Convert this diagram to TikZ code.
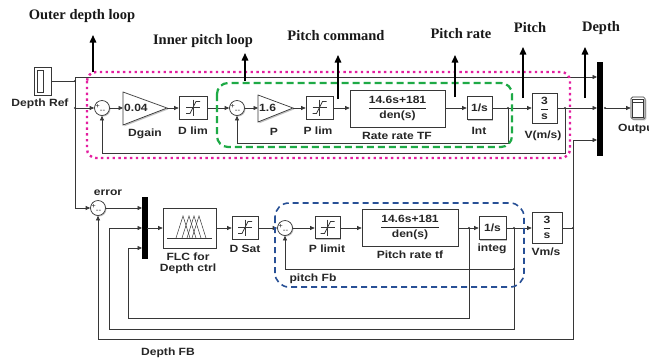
\documentclass[tikz,border=0pt]{standalone}
\usepackage{fontspec}
\usepackage{amsmath}
\setmainfont{Liberation Serif}
\newfontfamily\sfb[FakeStretch=1.15]{Liberation Sans}
\usetikzlibrary{arrows.meta,shadows}
\definecolor{ln}{RGB}{55,55,55}
\definecolor{pinkc}{RGB}{228,30,160}
\definecolor{greenc}{RGB}{30,170,70}
\definecolor{bluec}{RGB}{40,80,150}
\begin{document}
\begin{tikzpicture}[x=1pt,y=-1pt,
  every node/.style={font=\sfb\bfseries\fontsize{10.5}{11}\selectfont, inner sep=0pt, text=black!85},
  blk/.style 2 args={draw=ln, fill=white, line width=0.7pt, minimum width=#1, minimum height=#2,
     drop shadow={shadow xshift=1.3pt, shadow yshift=-1.3pt, fill=black!40, opacity=0.6}},
  sumn/.style={circle, draw=ln, fill=white, line width=0.7pt, minimum size=15pt,
     drop shadow={shadow xshift=1pt, shadow yshift=-1pt, fill=black!40, opacity=0.6}},
  mux/.style 2 args={fill=black, draw=black, minimum width=#1, minimum height=#2},
  sgn/.style={font=\sfb\fontsize{7}{7}\selectfont},
  sig/.style={draw=ln, line width=0.7pt, -{Triangle[length=4.5pt,width=4pt]}},
  wire/.style={draw=ln, line width=0.7pt},
  dot/.style={circle, fill=ln, minimum size=2.4pt},
  ann/.style={draw=black, line width=1.5pt, -{Triangle[length=7.5pt,width=6.5pt]}},
  anl/.style={font=\bfseries\fontsize{14.5}{15}\selectfont, text=black!90},
  satsym/.pic={\draw[ln, line width=0.4pt] (-7,0)--(7,0) (0,-8)--(0,8);
               \draw[ln, line width=0.8pt] (-7,6)--(-3,6)--(3,-6)--(7,-6);}
]
\useasboundingbox (0,0) rectangle (649,360);
\fill[white] (0,0) rectangle (649,360);

% ---------- top row ----------
\node[blk={17pt}{28pt}] (dref) at (42.5,81) {};
\draw[wire] (37,70) rectangle (43,92);
\node at (40,104) {Depth Ref};

\node[sumn] (s1) at (102,108) {};
\node[sgn] at (97.5,106) {+};
\node[sgn] at (102.5,111) {--};

\draw[wire, fill=white, drop shadow={shadow xshift=1.3pt, shadow yshift=-1.3pt, fill=black!40, opacity=0.6}] (123,92) -- (167,108) -- (123,125) -- cycle;
\coordinate (g1i) at (123,108); \coordinate (g1o) at (167,108);
\node[anchor=west] at (124,108) {0.04};
\node at (145,134) {Dgain};

\node[blk={28pt}{23pt}] (dlim) at (193,107.5) {};
\pic at (dlim.center) {satsym};
\node at (193,131) {D lim};

\node[sumn] (s2) at (237,108) {};
\node[sgn] at (232.5,106) {+};
\node[sgn] at (237.5,111) {--};

\draw[wire, fill=white, drop shadow={shadow xshift=1.3pt, shadow yshift=-1.3pt, fill=black!40, opacity=0.6}] (258,95) -- (293,108) -- (258,122) -- cycle;
\coordinate (g2i) at (258,108); \coordinate (g2o) at (293,108);
\node[anchor=west] at (259,108) {1.6};
\node at (274,132) {P};

\node[blk={27pt}{23pt}] (plim) at (319.5,107.5) {};
\pic at (plim.center) {satsym};
\node at (318,131) {P lim};

\node[blk={95pt}{37pt}] (rtf) at (397.5,108.5) {\(\dfrac{\text{14.6s+181}}{\text{den(s)}}\)};
\node at (397,136) {Rate rate TF};

\node[blk={25pt}{23pt}] (int) at (479.5,108) {1/s};
\node at (479,131) {Int};

\node[blk={25pt}{30pt}] (vms) at (544.5,108) {\(\dfrac{\text{3}}{\text{s}}\)};
\node at (543,136) {V(m/s)};

\node[mux={5pt}{93pt}] (mux1) at (599.5,108.5) {};
\coordinate (m1a) at (597,77);
\coordinate (m1b) at (597,108);
\coordinate (m1c) at (597,140);

\node[blk={14pt}{22pt}, rounded corners=1.5pt] (out) at (638,108) {};
\draw[wire] (632.5,99) rectangle (643.5,117);
\draw[wire] (632.5,102.5) -- (643.5,102.5);
\node[anchor=west] at (618,129) {Output};

% junctions
\coordinate (jr) at (75,81);
\coordinate (jt) at (75,77);
\coordinate (jm) at (75,108);
\coordinate (jb) at (75,208);
\coordinate (j1) at (508,108);
\coordinate (j2) at (565,108);
\coordinate (jo) at (605,108);

\draw[wire] (dref.east |- jr) -- (jr);
\draw[sig] (jb) -- (jt) -- (m1a);
\draw[sig] (jm) -- (s1.west);
\draw[sig] (s1.east) -- (g1i);
\draw[sig] (g1o) -- (dlim.west |- g1o);
\draw[sig] (dlim.east |- s2) -- (s2.west);
\draw[sig] (s2.east) -- (g2i);
\draw[sig] (g2o) -- (plim.west |- g2o);
\draw[sig] (plim.east |- g2o) -- (rtf.west |- g2o);
\draw[sig] (rtf.east |- g2o) -- (int.west |- g2o);
\draw[sig] (int.east |- g2o) -- (vms.west |- g2o);
\draw[sig] (vms.east |- g2o) -- (m1b);
\draw[sig] (jo) -- (out.west);
\draw[sig] (j1) -- (508,143) -- (237,143) -- (s2.south);
\draw[sig] (j2) -- (565,153) -- (102,153) -- (s1.south);
\foreach \p in {jr,jm,j1,j2,jo} \node[dot] at (\p) {};

% ---------- bottom row ----------
\node[sumn] (es) at (98,208) {};
\node[sgn] at (93.5,206) {+};
\node[sgn] at (98.5,211) {--};
\node at (108,193) {error};

\node[mux={5pt}{61pt}] (mux2) at (144.5,227.5) {};
\coordinate (m2a) at (142,208);
\coordinate (m2b) at (142,228);
\coordinate (m2c) at (142,248);

\node[blk={53pt}{40pt}] (flc) at (189.5,228) {};
\draw[ln, line width=0.5pt] (167,238) -- (212,238);
\foreach \a in {183,189,194,199} \draw[ln, line width=0.5pt] (\a-7,238) -- (\a,216) -- (\a+7,238);
\node at (188,257) {FLC for};
\node at (188,269) {Depth ctrl};

\node[blk={26pt}{23pt}] (dsat) at (245,227.5) {};
\pic at (dsat.center) {satsym};
\node at (245,249) {D Sat};

\node[sumn] (s3) at (285,228) {};
\node[sgn] at (280.5,226) {+};
\node[sgn] at (285.5,231) {--};

\node[blk={25pt}{22pt}] (plimit) at (327.5,227.5) {};
\pic at (plimit.center) {satsym};
\node at (327,249) {P limit};

\node[blk={96pt}{37pt}] (prtf) at (410,227.5) {\(\dfrac{\text{14.6s+181}}{\text{den(s)}}\)};
\node at (410,255) {Pitch rate tf};

\node[blk={27pt}{23pt}] (integ) at (492.5,228) {1/s};
\node at (492,249) {integ};

\node[blk={30pt}{31pt}] (vm2) at (547,227.5) {\(\dfrac{\text{3}}{\text{s}}\)};
\node at (546,252) {Vm/s};

\coordinate (j3) at (469,228);
\coordinate (j4) at (514,228);
\coordinate (j5) at (573,228);
\coordinate (j6) at (514,269);

\draw[sig] (jb) -- (es.west);
\draw[sig] (es.east) -- (m2a);
\draw[sig] (m2b -| mux2.east) -- (flc.west);
\draw[sig] (flc.east) -- (dsat.west |- flc.east);
\draw[sig] (dsat.east |- s3) -- (s3.west);
\draw[sig] (s3.east) -- (plimit.west |- s3);
\draw[sig] (plimit.east |- s3) -- (prtf.west |- s3);
\draw[sig] (prtf.east |- s3) -- (integ.west |- s3);
\draw[sig] (integ.east |- s3) -- (vm2.west |- s3);
\draw[wire] (vm2.east |- s3) -- (j5);
\draw[sig] (j5) -- (573,140) -- (m1c);
\draw[sig] (j5) -- (573,339) -- (98,339) -- (es.south);
\draw[sig] (j4) -- (j6) -- (285,269) -- (s3.south);
\draw[sig] (j6) -- (514,329) -- (109,329) -- (109,228) -- (m2b);
\draw[sig] (j3) -- (469,318) -- (128,318) -- (128,248) -- (m2c);
\foreach \p in {j3,j4,j5,j6} \node[dot] at (\p) {};
\node at (313,279) {pitch Fb};
\node at (168,353) {Depth FB};

% ---------- loop frames ----------
\draw[pinkc, line width=2.4pt, dash pattern=on 2.4pt off 3.4pt, rounded corners=9pt] (87,72) rectangle (570,158);
\draw[greenc, line width=2.2pt, dash pattern=on 7pt off 4pt, rounded corners=11pt] (217,83) rectangle (512,147);
\draw[bluec, line width=1.6pt, dash pattern=on 6pt off 4pt, rounded corners=14pt] (275,203) rectangle (524,287);

% ---------- annotations ----------
\coordinate (a1s) at (93,72);   \coordinate (a1e) at (93,35);
\coordinate (a2s) at (245,81);  \coordinate (a2e) at (245,53);
\coordinate (a3s) at (338,99);  \coordinate (a3e) at (338,55);
\coordinate (a4s) at (455,97);  \coordinate (a4e) at (455,55);
\coordinate (a5s) at (523,98);  \coordinate (a5e) at (523,47);
\coordinate (a6s) at (585,98);  \coordinate (a6e) at (585,47);
\draw[ann] (a1s) -- (a1e);
\draw[ann] (a2s) -- (a2e);
\draw[ann] (a3s) -- (a3e);
\draw[ann] (a4s) -- (a4e);
\draw[ann] (a5s) -- (a5e);
\draw[ann] (a6s) -- (a6e);
\node[anl] at (82,16) {Outer depth loop};
\node[anl] at (203,41) {Inner pitch loop};
\node[anl] at (336,36) {Pitch command};
\node[anl] at (461,34) {Pitch rate};
\node[anl] at (530,28) {Pitch};
\node[anl] at (601,28) {Depth};
\end{tikzpicture}
\end{document}
